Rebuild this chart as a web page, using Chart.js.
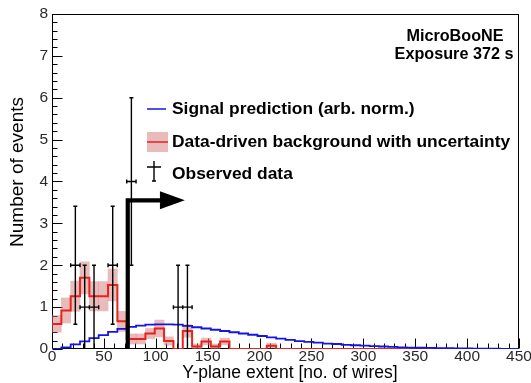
<!DOCTYPE html>
<html>
<head>
<meta charset="utf-8">
<script src="https://cdn.jsdelivr.net/npm/chart.js@4.4.0/dist/chart.umd.min.js"></script>
<style>
  html, body { margin: 0; padding: 0; background: #ffffff; }
  canvas { display: block; }
</style>
</head>
<body>
<canvas id="c" width="531" height="383"></canvas>
<script>
// Histogram binning: 50 bins of 9 wires between 0 and 450
const binEdges = [
  0, 9, 18, 27, 36, 45, 54, 63, 72, 81,
  90, 99, 108, 117, 126, 135, 144, 153, 162, 171,
  180, 189, 198, 207, 216, 225, 234, 243, 252, 261,
  270, 279, 288, 297, 306, 315, 324, 333, 342, 351,
  360, 369, 378, 387, 396, 405, 414, 423, 432, 441, 450
];

// Data-driven background (events per bin) and its uncertainty
const background = [
  0.60, 0.92, 1.26, 1.70, 1.26, 1.26, 1.53, 0.66, 0.24, 0.24,
  0.37, 0.49, 0.19, 0.00, 0.43, 0.06, 0.18, 0.06, 0.18, 0.00,
  0.00, 0.00, 0.00, 0.08, 0.00, 0.00, 0.00, 0.00, 0.00, 0.00,
  0.00, 0.00, 0.00, 0.00, 0.00, 0.00, 0.00, 0.00, 0.00, 0.00,
  0.00, 0.00, 0.00, 0.00, 0.00, 0.00, 0.00, 0.00, 0.00, 0.00
];
const backgroundErr = [
  0.20, 0.30, 0.36, 0.38, 0.35, 0.35, 0.38, 0.24, 0.12, 0.12,
  0.12, 0.20, 0.10, 0.00, 0.15, 0.06, 0.08, 0.06, 0.08, 0.00,
  0.00, 0.00, 0.00, 0.06, 0.00, 0.00, 0.00, 0.00, 0.00, 0.00,
  0.00, 0.00, 0.00, 0.00, 0.00, 0.00, 0.00, 0.00, 0.00, 0.00,
  0.00, 0.00, 0.00, 0.00, 0.00, 0.00, 0.00, 0.00, 0.00, 0.00
];

// Signal prediction, arbitrary normalisation
const signal = [
  0.00, 0.04, 0.11, 0.18, 0.26, 0.33, 0.41, 0.48, 0.53, 0.56,
  0.58, 0.59, 0.59, 0.58, 0.55, 0.52, 0.49, 0.46, 0.43, 0.40,
  0.37, 0.34, 0.31, 0.28, 0.25, 0.22, 0.19, 0.17, 0.15, 0.13,
  0.12, 0.10, 0.09, 0.08, 0.07, 0.06, 0.05, 0.04, 0.035, 0.03,
  0.025, 0.02, 0.018, 0.015, 0.012, 0.010, 0.008, 0.007, 0.005, 0.004
];

// Observed data: bin centre, counts, vertical and horizontal errors
const observedX    = [22.5, 31.5, 40.5, 58.5, 76.5, 121.5, 130.5];
const observedY    = [2, 1, 1, 2, 4, 1, 1];
const observedYErr = [1.41, 1, 1, 1.41, 2, 1, 1];
const observedXErr = [4.5, 4.5, 4.5, 4.5, 4.5, 4.5, 4.5];

// Axis ranges and tick spacing
const xRange = [0, 450];
const yRange = [0, 8];
const xTickStep = 50, xMinorStep = 10;
const yTickStep = 1,  yMinorStep = 0.2;

// Selection cut drawn as an arrow (in axis units)
const cutWires = 73;
const arrowLevel = 3.55;
const arrowHeadStart = 104;
const arrowTip = 128;

const RED = '#e8231e';
const BLUE = '#1414e6';
const BAND = 'rgba(214, 120, 120, 0.5)';
const FONT = '"Liberation Sans", Arial, Helvetica, sans-serif';

function stepPoints(values) {
  const pts = values.map((v, i) => ({ x: binEdges[i], y: v }));
  pts.push({ x: binEdges[binEdges.length - 1], y: values[values.length - 1] });
  return pts;
}

const bandPoints = background.map((v, i) => ({
  x: (binEdges[i] + binEdges[i + 1]) / 2,
  y: [v - backgroundErr[i], v + backgroundErr[i]]
}));

// Frame with inward major/minor ticks
const frameAndTicks = {
  id: 'frameAndTicks',
  beforeDatasetsDraw(chart) {
    const { ctx, chartArea: a, scales: { x, y } } = chart;
    ctx.save();
    ctx.strokeStyle = '#000';
    ctx.lineWidth = 1;
    const L = Math.round(a.left) + 0.5, R = Math.round(a.right) - 0.5;
    const T = Math.round(a.top) + 0.5, B = Math.round(a.bottom) - 0.5;
    ctx.strokeRect(L, T, R - L, B - T);
    ctx.beginPath();
    for (let v = xRange[0]; v <= xRange[1] + 1e-9; v += xMinorStep) {
      const px = Math.round(x.getPixelForValue(v)) + 0.5;
      const len = Math.abs(v / xTickStep - Math.round(v / xTickStep)) < 1e-6 ? 10 : 5;
      ctx.moveTo(px, B);
      ctx.lineTo(px, B - len);
    }
    for (let v = yRange[0]; v <= yRange[1] + 1e-9; v += yMinorStep) {
      const py = Math.round(y.getPixelForValue(v)) + 0.5;
      const len = Math.abs(v / yTickStep - Math.round(v / yTickStep)) < 1e-6 ? 10 : 5;
      ctx.moveTo(L, py);
      ctx.lineTo(L + len, py);
    }
    ctx.stroke();
    ctx.restore();
  }
};

// Observed data error bars, cut arrow, legend and text labels
const overlays = {
  id: 'overlays',
  afterDatasetsDraw(chart) {
    const { ctx, scales: { x, y } } = chart;
    ctx.save();

    // observed data
    ctx.strokeStyle = '#000';
    ctx.lineWidth = 1.4;
    ctx.beginPath();
    observedX.forEach((xv, i) => {
      const px = x.getPixelForValue(xv);
      const py = y.getPixelForValue(observedY[i]);
      const yLo = y.getPixelForValue(Math.max(0, observedY[i] - observedYErr[i]));
      const yHi = y.getPixelForValue(observedY[i] + observedYErr[i]);
      const xLo = x.getPixelForValue(xv - observedXErr[i]);
      const xHi = x.getPixelForValue(xv + observedXErr[i]);
      ctx.moveTo(px, yLo); ctx.lineTo(px, yHi);
      ctx.moveTo(px - 2, yHi); ctx.lineTo(px + 2, yHi);
      if (observedY[i] - observedYErr[i] > 0) { ctx.moveTo(px - 2, yLo); ctx.lineTo(px + 2, yLo); }
      ctx.moveTo(xLo, py); ctx.lineTo(xHi, py);
      ctx.moveTo(xLo, py - 2); ctx.lineTo(xLo, py + 2);
      ctx.moveTo(xHi, py - 2); ctx.lineTo(xHi, py + 2);
    });
    ctx.stroke();

    // cut arrow
    const cx = x.getPixelForValue(cutWires);
    const cy0 = y.getPixelForValue(0);
    const cy = y.getPixelForValue(arrowLevel);
    const hx = x.getPixelForValue(arrowHeadStart);
    const tx = x.getPixelForValue(arrowTip);
    ctx.lineWidth = 4.2;
    ctx.lineJoin = 'miter';
    ctx.beginPath();
    ctx.moveTo(cx, cy0);
    ctx.lineTo(cx, cy);
    ctx.lineTo(hx + 1, cy);
    ctx.stroke();
    ctx.fillStyle = '#000';
    ctx.beginPath();
    ctx.moveTo(hx, cy - 9);
    ctx.lineTo(tx, cy);
    ctx.lineTo(hx, cy + 9);
    ctx.closePath();
    ctx.fill();

    // legend
    ctx.lineJoin = 'round';
    ctx.lineWidth = 1.5;
    ctx.strokeStyle = BLUE;
    ctx.beginPath(); ctx.moveTo(147, 109); ctx.lineTo(166, 109); ctx.stroke();
    ctx.fillStyle = BAND;
    ctx.fillRect(147, 132, 21, 20);
    ctx.strokeStyle = RED;
    ctx.beginPath(); ctx.moveTo(147, 142); ctx.lineTo(168, 142); ctx.stroke();
    ctx.strokeStyle = '#000';
    ctx.lineWidth = 1.4;
    ctx.beginPath();
    ctx.moveTo(154, 161); ctx.lineTo(154, 181);
    ctx.moveTo(152, 181); ctx.lineTo(156, 181);
    ctx.moveTo(147, 167); ctx.lineTo(161, 167);
    ctx.stroke();

    ctx.fillStyle = '#000';
    ctx.textBaseline = 'middle';
    ctx.textAlign = 'left';
    ctx.font = 'bold 17.4px ' + FONT;
    ctx.fillText('Signal prediction (arb. norm.)', 172, 109);
    ctx.fillText('Data-driven background with uncertainty', 172, 142);
    ctx.fillText('Observed data', 172, 174);

    ctx.textAlign = 'center';
    ctx.font = 'bold 16.2px ' + FONT;
    ctx.fillText('MicroBooNE', 455, 37);
    ctx.fillText('Exposure 372 s', 454, 55);

    // axis titles
    ctx.font = '17.5px ' + FONT;
    ctx.fillText('Y-plane extent [no. of wires]', 290, 373);
    ctx.save();
    ctx.translate(18, 172);
    ctx.rotate(-Math.PI / 2);
    ctx.font = '19px ' + FONT;
    ctx.fillText('Number of events', 0, 0);
    ctx.restore();

    ctx.restore();
  }
};

new Chart(document.getElementById('c'), {
  data: {
    datasets: [
      {
        type: 'bar',
        label: 'Data-driven background uncertainty',
        data: bandPoints,
        backgroundColor: BAND,
        borderWidth: 0,
        barPercentage: 1.0,
        categoryPercentage: 1.0,
        order: 4
      },
      {
        type: 'line',
        label: 'Data-driven background',
        data: stepPoints(background),
        stepped: true,
        borderColor: RED,
        borderWidth: 2,
        pointRadius: 0,
        fill: false,
        order: 3
      },
      {
        type: 'line',
        label: 'Signal prediction (arb. norm.)',
        data: stepPoints(signal),
        stepped: true,
        borderColor: BLUE,
        borderWidth: 1.8,
        pointRadius: 0,
        fill: false,
        order: 2
      }
    ]
  },
  options: {
    responsive: false,
    animation: false,
    events: [],
    layout: { padding: { left: 0, top: 14, right: 12, bottom: 0 } },
    plugins: { legend: { display: false }, tooltip: { enabled: false } },
    scales: {
      x: {
        type: 'linear',
        min: xRange[0],
        max: xRange[1],
        offset: false,
        grid: { display: false, drawTicks: false },
        border: { display: false },
        ticks: {
          stepSize: xTickStep,
          autoSkip: false,
          maxRotation: 0,
          padding: 0,
          color: '#2a2a2a',
          font: { family: FONT, size: 15.5, lineHeight: 1 }
        },
        afterFit(s) { s.height = 34; s.paddingLeft = 0; s.paddingRight = 0; }
      },
      y: {
        type: 'linear',
        min: yRange[0],
        max: yRange[1],
        grid: { display: false, drawTicks: false },
        border: { display: false },
        ticks: {
          stepSize: yTickStep,
          padding: 4,
          color: '#2a2a2a',
          font: { family: FONT, size: 15.5, lineHeight: 1 }
        },
        afterFit(s) { s.width = 52; s.paddingTop = 0; s.paddingBottom = 0; }
      }
    }
  },
  plugins: [frameAndTicks, overlays]
});
</script>
</body>
</html>
